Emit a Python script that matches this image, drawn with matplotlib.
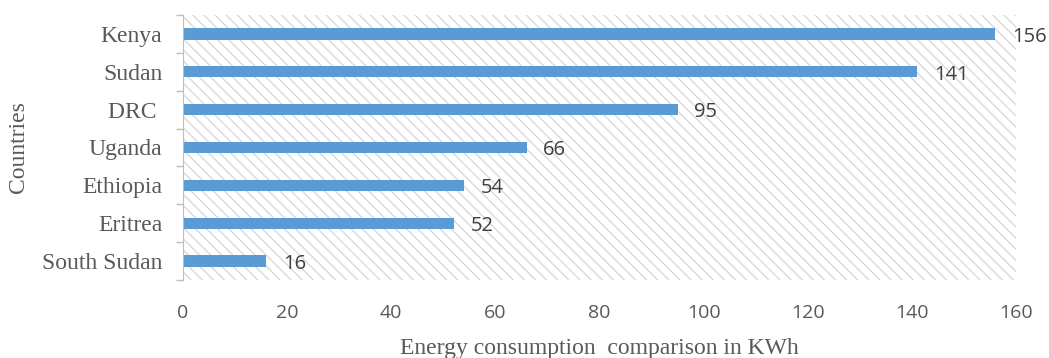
import matplotlib

matplotlib.use("Agg")
import matplotlib.pyplot as plt
from matplotlib.patches import Rectangle

countries = ["Kenya", "Sudan", "DRC ", "Uganda", "Ethiopia", "Eritrea", "South Sudan"]
consumption = [156, 141, 95, 66, 54, 52, 16]
xticks = [0, 20, 40, 60, 80, 100, 120, 140, 160]

BAR = "#5B9BD5"
TEXT = "#595959"
SERIF = ["Liberation Serif", "DejaVu Serif"]
SANS = ["Open Sans", "DejaVu Sans"]

plt.rcParams["hatch.linewidth"] = 0.9
plt.rcParams["hatch.color"] = "#d6d6d6"

fig = plt.figure(figsize=(10.49, 3.58), dpi=100)
ax = fig.add_axes([0.1745, 0.218, 0.7941, 0.740])

# hatched plot area background
ax.add_patch(Rectangle((0, 0), 1, 1, transform=ax.transAxes, facecolor="white",
                       edgecolor="#d6d6d6", hatch="\\\\\\", lw=0, zorder=0))

pos = list(range(len(countries)))[::-1]
ax.barh(pos, consumption, height=0.3, color=BAR, zorder=2)
for y, v in zip(pos, consumption):
    ax.annotate(f"{v}", (v, y), xytext=(12, -2), textcoords="offset points",
                ha="left", va="center", fontsize=14.5, color="#404040", family=SANS)

ax.set_xlim(0, 160)
ax.set_ylim(-0.5, len(countries) - 0.5)
ax.set_xticks(xticks)
ax.set_xticklabels([str(t) for t in xticks], family=SANS, fontsize=14, color=TEXT)
ax.tick_params(axis="x", length=0, pad=17)

ax.set_yticks(pos)
ax.set_yticklabels(countries, fontsize=17, color=TEXT)
for lbl in ax.get_yticklabels():
    lbl.set_family(SERIF)
ax.tick_params(axis="y", which="major", length=0, pad=15)
ax.set_yticks([p - 0.5 for p in range(len(countries) + 1)], minor=True)
ax.tick_params(axis="y", which="minor", length=5, color="#bfbfbf", width=1)

for side in ["top", "right", "bottom"]:
    ax.spines[side].set_visible(False)
ax.spines["left"].set_color("#bfbfbf")

ax.set_xlabel("Energy consumption  comparison in KWh", family=SERIF, fontsize=17,
              color=TEXT, labelpad=12)
ax.set_ylabel("Countries", family=SERIF, fontsize=17, color=TEXT)
ax.yaxis.set_label_coords(-0.185, 0.5)

fig.savefig("out.png", dpi=100)
